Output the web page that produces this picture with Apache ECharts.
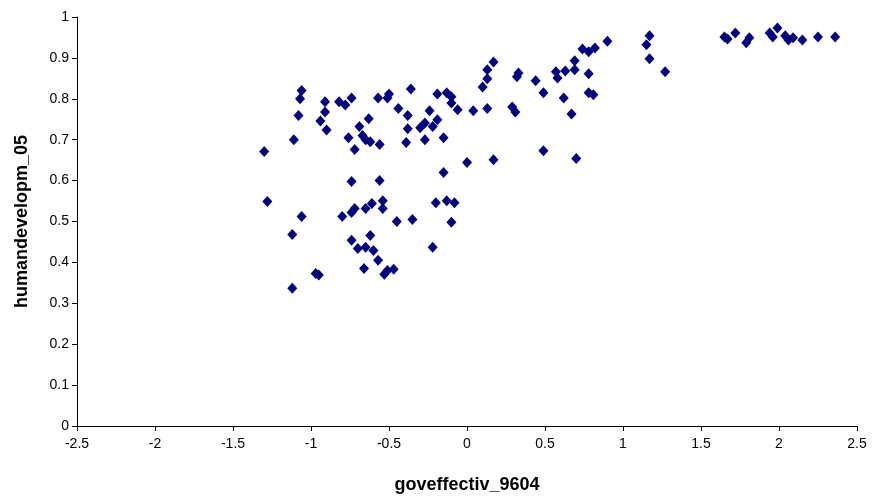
<!DOCTYPE html>
<html>
<head>
<meta charset="utf-8">
<script src="https://cdn.jsdelivr.net/npm/echarts@6/dist/echarts.min.js"></script>
<style>
  html, body { margin: 0; padding: 0; background: #fff; }
  #chart { width: 876px; height: 499px; }
</style>
</head>
<body>
<div id="chart"></div>
<script>
// goveffectiv_9604 (x) vs humandevelopm_05 (y)
var govEffectiv = [
  -1.30, -1.28, -1.12, -1.12, -1.11, -1.08, -1.07, -1.06, -1.06, -0.97, -0.95,
  -0.91, -0.91, -0.94, -0.90, -0.82, -0.78, -0.74, -0.76, -0.72, -0.69, -0.63,
  -0.67, -0.65, -0.62, -0.56, -0.57, -0.51, -0.50, -0.44, -0.74, -0.56,
  -0.80, -0.74, -0.72, -0.65, -0.61, -0.54, -0.54, -0.45, -0.74, -0.62,
  -0.70, -0.65, -0.60, -0.57, -0.66, -0.53, -0.51, -0.47,
  -0.36, -0.38, -0.38, -0.39, -0.30, -0.27, -0.22, -0.19, -0.24, -0.27, -0.15,
  -0.19, -0.13, -0.10, -0.10, -0.06, 0.04, 0.13, 0.17, 0.13, 0.13, 0.10,
  0.33, 0.32, 0.44, 0.49, 0.29, 0.31, 0.49, 0.00, 0.17, -0.15,
  -0.20, -0.13, -0.08, -0.35, -0.10, -0.22,
  0.90, 0.74, 0.78, 0.82, 0.69, 0.69, 0.63, 0.57, 0.58, 0.78, 0.62, 0.78, 0.81,
  0.67, 0.70, 1.17, 1.15, 1.17, 1.27,
  1.65, 1.67, 1.72, 1.79, 1.81, 1.94, 1.99, 1.96, 2.04, 2.06, 2.09, 2.15, 2.25, 2.36
];
var humanDevelop = [
  0.671, 0.549, 0.337, 0.468, 0.700, 0.759, 0.800, 0.820, 0.512, 0.373, 0.369,
  0.793, 0.768, 0.746, 0.724, 0.793, 0.785, 0.802, 0.705, 0.676, 0.732, 0.751,
  0.710, 0.700, 0.695, 0.688, 0.802, 0.802, 0.812, 0.776, 0.598, 0.600,
  0.512, 0.522, 0.532, 0.532, 0.544, 0.551, 0.532, 0.500, 0.454, 0.466,
  0.434, 0.437, 0.429, 0.405, 0.385, 0.371, 0.380, 0.383,
  0.824, 0.759, 0.727, 0.693, 0.729, 0.741, 0.732, 0.749, 0.771, 0.700, 0.705,
  0.812, 0.815, 0.805, 0.790, 0.773, 0.771, 0.776, 0.890, 0.871, 0.849, 0.829,
  0.863, 0.854, 0.844, 0.815, 0.780, 0.768, 0.673, 0.644, 0.651, 0.620,
  0.546, 0.551, 0.546, 0.505, 0.498, 0.437,
  0.941, 0.922, 0.915, 0.924, 0.893, 0.871, 0.868, 0.866, 0.851, 0.861, 0.802, 0.815, 0.810,
  0.763, 0.654, 0.954, 0.932, 0.898, 0.866,
  0.951, 0.946, 0.961, 0.937, 0.949, 0.961, 0.973, 0.951, 0.954, 0.944, 0.949, 0.944, 0.951, 0.951
];

var points = govEffectiv.map(function (x, i) { return [x, humanDevelop[i]]; });

var chart = echarts.init(document.getElementById('chart'));
var font = 'Liberation Sans, Arial, sans-serif';
var axisText = { color: '#000', fontFamily: font, fontSize: 14 };
var nameText = { color: '#000', fontFamily: font, fontSize: 18, fontWeight: 'bold' };
var option = {
  animation: false,
  grid: { left: 77, right: 19, top: 17, bottom: 72 },
  xAxis: {
    type: 'value',
    min: -2.5, max: 2.5, interval: 0.5,
    name: 'goveffectiv_9604',
    nameLocation: 'middle',
    nameGap: 50,
    nameTextStyle: nameText,
    axisLine: { onZero: false, lineStyle: { color: '#000', width: 1 } },
    axisTick: { show: true, length: 5, lineStyle: { color: '#000' } },
    axisLabel: Object.assign({ margin: 11 }, axisText),
    splitLine: { show: false }
  },
  yAxis: {
    type: 'value',
    min: 0, max: 1, interval: 0.1,
    name: 'humandevelopm_05',
    nameLocation: 'middle',
    nameGap: 46,
    nameTextStyle: nameText,
    axisLine: { show: true, onZero: false, lineStyle: { color: '#000', width: 1 } },
    axisTick: { show: true, length: 5, lineStyle: { color: '#000' } },
    axisLabel: Object.assign({ margin: 8 }, axisText),
    splitLine: { show: false }
  },
  series: [{
    type: 'scatter',
    symbol: 'diamond',
    symbolSize: [10, 11],
    itemStyle: { color: '#000080', opacity: 1 },
    data: points
  }]
};
chart.setOption(option);
</script>
</body>
</html>
